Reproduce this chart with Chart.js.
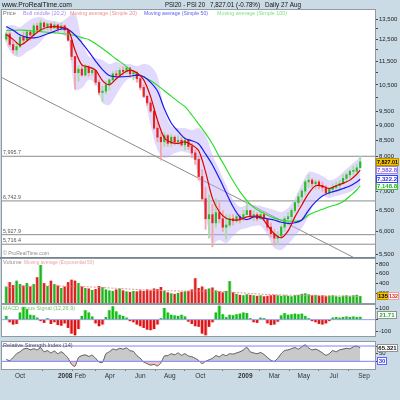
<!DOCTYPE html>
<html><head><meta charset="utf-8">
<script src="https://cdn.jsdelivr.net/npm/chart.js@4/dist/chart.umd.min.js"></script>
<style>
html,body{margin:0;padding:0;background:#cbdbe5;width:400px;height:400px;overflow:hidden;}
canvas{position:absolute;left:0;top:0;}
</style></head>
<body>
<canvas id="cMain" width="400" height="400"></canvas>
<canvas id="cVol" width="400" height="400"></canvas>
<canvas id="cMacd" width="400" height="400"></canvas>
<canvas id="cRsi" width="400" height="400"></canvas>
<script>
// ---------- DATA (weekly, week 0 = first week of Sep 2007, week 103 = week of 27 Aug 2009) ----------
const candleOpen = [12500,12750,12250,12000,12150,12600,12450,12850,12700,13150,12950,13300,13100,13250,13050,13200,13000,13150,12950,12450,
 11700,11000,11150,10900,11250,11000,11100,10600,10200,10250,10500,10700,10950,10900,11100,11050,11200,10950,11000,10750,
 10400,10050,9800,9500,8900,8600,8450,8650,8400,8600,8450,8500,8350,8500,8300,8100,7900,7400,6800,6300,
 6400,6200,6450,6300,6100,6150,6300,6250,6350,6300,6400,6500,6350,6400,6300,6400,6300,6100,5950,5850,
 5900,6100,6300,6350,6500,6700,6850,7000,7250,7300,7200,7250,7150,7100,6950,7050,7100,7150,7200,7350,
 7450,7550,7550,7650];
const candleHigh = [12850,12850,12450,12300,12700,12850,12950,12950,13250,13300,13450,13350,13300,13300,13350,13250,13300,13200,12950,12450,
 11700,11300,11350,11350,11300,11250,11100,10700,10450,10650,10750,11050,11100,11200,11250,11250,11200,11100,11050,10800,
 10500,10100,9900,9550,9100,8750,8750,8700,8700,8650,8650,8600,8600,8500,8400,8200,7950,7600,7100,6900,
 6650,6800,6700,6500,6400,6400,6400,6400,6400,6500,6700,6500,6500,6450,6500,6450,6300,6200,6050,6000,
 6150,6350,6450,6550,6750,6950,7050,7300,7440,7350,7300,7300,7250,7150,7100,7200,7250,7300,7450,7500,
 7600,7700,7750,8000];
const candleLow = [12400,12150,11850,11770,12100,12250,12400,12450,12650,12800,12900,12950,12950,12900,13000,12850,12950,12800,12400,11550,
 10330,10650,10850,10850,10850,10900,10500,10100,9860,10150,10300,10600,10700,10850,10900,10950,10800,10700,10600,10300,
 10000,9700,9450,8850,8450,7880,8300,8300,8300,8350,8350,8300,8200,8200,7950,7750,7300,6750,6050,5850,
 5660,6100,6200,6000,5830,6100,6150,6200,6200,6250,6400,6280,6250,6250,6280,6250,6020,5870,5700,5700,
 5850,6000,6150,6250,6450,6600,6750,6900,7100,7100,7050,7050,7000,6900,6900,6950,7000,7050,7200,7250,
 7350,7450,7450,7650];
const candleClose = [12750,12250,12000,12150,12600,12450,12850,12700,13150,12950,13300,13100,13250,13050,13200,13000,13150,12950,12450,11700,
 11000,11150,10900,11250,11000,11100,10600,10200,10250,10500,10700,10950,10900,11100,11050,11200,10950,11000,10750,10400,
 10050,9800,9500,8900,8600,8450,8650,8400,8600,8450,8500,8350,8500,8300,8100,7900,7400,6800,6300,6400,
 6200,6450,6300,6100,6150,6300,6250,6350,6300,6400,6500,6350,6400,6300,6400,6300,6100,5950,5850,5900,
 6100,6300,6350,6500,6700,6850,7000,7250,7300,7200,7250,7150,7100,6950,7050,7100,7150,7200,7350,7450,
 7550,7550,7650,7827.01];

const maWeeks = [0,2,4,6,8,10,12,14,16,18,20,22,24,26,28,30,32,34,36,38,40,42,44,46,48,50,52,54,56,58,60,62,64,66,68,70,72,74,76,78,80,82,84,86,88,90,92,94,96,98,100,102,103];
const ma20 = [12720,12490,12220,12410,12700,12945,13080,13110,13080,12980,11990,11330,11240,11110,10670,10505,10750,10975,11110,11000,
 10700,10040,9180,8580,8430,8400,8450,8350,8165,7535,6810,6470,6310,6270,6280,6345,6360,6345,6150,5945,
 5860,6015,6345,6640,6940,7145,7135,7070,7145,7210,7300,7470,7582.8];
const ma50 = [13115,12930,12700,12590,12565,12630,12760,12880,12995,12970,12700,12330,11925,11500,11130,10880,10830,10830,10850,10900,
 10830,10600,10255,9585,9080,8795,8560,8485,8380,8065,7735,7350,6955,6595,6345,6280,6345,6330,6300,6270,
 6215,6190,6205,6270,6513,6720,6870,6955,7005,7070,7140,7250,7322.2];
const ma100 = [12920,12930,12945,12920,12895,12865,12835,12805,12775,12735,12675,12575,12490,12280,12060,11825,11590,11375,11145,10980,
 10830,10675,10480,10265,10060,9850,9660,9360,9040,8725,8380,7985,7625,7280,6985,6750,6580,6470,6385,6315,
 6270,6245,6240,6270,6390,6470,6530,6595,6645,6720,6870,7030,7148.8];
const bollUpper = [13145,13195,13090,13345,13550,13600,13450,13400,13345,13600,13810,12460,11720,11630,11545,11370,11455,11370,11370,11285,
 11370,11285,10860,9540,8975,8905,8905,8835,8905,8670,8035,7590,7165,6765,6590,6640,6640,6615,6565,6515,
 6465,6565,6815,7190,7530,7500,7415,7300,7360,7530,7705,7880,8000];
const bollLower = [12220,11770,11680,11900,12085,12365,12750,12800,12750,12460,10300,10375,10700,10535,9795,9725,10100,10535,10780,10700,
 10100,9010,8190,7940,8035,8130,8130,8035,7360,6390,5740,5810,5740,5895,6035,6080,6125,6125,5920,5635,
 5590,5720,5895,6080,6365,6765,6870,6815,6870,6920,6975,7085,7190];

const supportLevels = [7995.7, 6742.9, 5927.9, 5716.4];
const trendWeeks = [-1.24, 101.0];
const trendValues = [10791, 5437];

const volume = [330,420,360,450,380,350,400,330,380,520, 770,400,340,450,380,350,300,330,420,470,
 450,400,330,300,290,260,280,340,320,270, 250,240,270,290,250,230,220,240,230,250,
 240,270,250,290,280,320,240,210,190,180, 200,220,230,240,270,500,300,330,270,290,
 310,250,230,210,240,440,210,180,160,150, 170,160,150,140,150,130,140,150,160,150,
 140,150,140,130,150,160,180,190,170,150, 160,140,150,130,140,150,130,120,140,150,
 130,150,160,135];
const emaWeeks = [0,4,8,12,16,20,24,28,32,36,40,44,48,52,56,60,64,68,72,76,80,84,88,92,96,100,103];
const volumeEma = [320,330,345,350,345,340,330,315,300,285,270,260,250,245,245,240,230,210,190,175,165,158,152,148,145,142,132];

const macdHist = [30,-20,-40,-35,60,110,90,40,35,15, -10,-25,10,-35,-20,-45,-50,-30,-70,-120,
 -135,-80,30,80,60,25,-30,-55,-40,20, 80,115,70,40,30,15,-10,-20,-40,-55,
 -70,-85,-90,-80,-40,10,100,60,40,35, 30,40,25,-15,-35,-55,-60,-120,-135,-60,
 -20,60,120,45,20,40,35,45,50,60, 55,10,-20,-25,15,10,-30,-45,-40,-15,
 35,55,40,45,50,45,50,30,10,-10, -20,-35,-40,-30,-10,15,20,15,20,25,
 20,25,20,21.71];

const rsi14 = [35,32,40,50,55,62,64,60,63,60, 66,55,58,52,57,50,55,48,38,22,
 17,40,45,47,43,46,38,28,27,50, 55,62,60,64,62,65,58,56,45,38,
 28,24,20,22,18,26,44,45,50,47, 52,46,50,44,42,38,32,24,30,34,
 38,45,42,48,45,50,49,52,55,60, 67,55,52,50,53,48,40,33,30,38,
 50,58,60,63,66,62,68,73,65,60, 62,58,52,46,50,58,55,60,62,64,
 63,68,70,65.321];

const priceTicks = [5500,6000,6500,7000,7500,8000,8500,9000,9500,10000,10500,11000,11500,12000,12500,13000,13500];
const priceTickLabels = [13500,12500,11500,10500,9500,9000,8500,8000,7000,6500,6000,5500];
const volumeTicks = [200,400,600,800];
const macdTicks = [-100,0,100];
const macdTickLabels = [-100,100];
const rsiTicks = [30,50,70];
const rsiTickLabels = [50];
const monthTickWeeks = [4,17.14,21.57,30.14,39,47.57,56.43,69.57,78,86.57,95.28,104.1];
const monthTickLabels = ['Oct','2008','Feb','Apr','Jun','Aug','Oct','2009','Mar','May','Jul','Sep'];

const lastPrice = 7827.01, lastBoll = 7582.8, lastMa50 = 7322.2, lastMa100 = 7148.8;
const lastVolume = 135, lastVolumeEma = 132, lastMacd = 21.71, lastRsi = 65.321;

// ---------- STYLE / HELPERS ----------
const FONT = '"Liberation Sans", Arial, sans-serif';
Chart.defaults.font.family = FONT;
const X_MIN = -1.24, X_MAX = 107.3;
const weekIdx = candleClose.map((_, i) => i);
const isUp = i => candleClose[i] >= candleOpen[i];
const pts = (xs, ys) => xs.map((x, j) => ({x, y: ys[j]}));
const hline = v => [{x: X_MIN, y: v}, {x: X_MAX, y: v}];

function txt(ctx, s, x, y, color, size, maxW, weight, align) {
  ctx.save();
  ctx.font = (weight || 'normal') + ' ' + size + 'px ' + FONT;
  ctx.fillStyle = color; ctx.textBaseline = 'middle'; ctx.textAlign = align || 'left';
  if (maxW) ctx.fillText(s, x, y, maxW); else ctx.fillText(s, x, y);
  ctx.restore();
}
function box(ctx, s, x, yc, w, bg, border, color) {
  const h = 8, top = Math.round(yc - h / 2);
  ctx.save();
  ctx.fillStyle = bg; ctx.fillRect(x, top, w, h);
  ctx.strokeStyle = border; ctx.lineWidth = 1; ctx.strokeRect(x + 0.5, top + 0.5, w - 1, h - 1);
  ctx.restore();
  txt(ctx, s, x + w / 2, top + h / 2 + 0.5, color, 6, w - 2, 'bold', 'center');
}
function panel(id, after, bottomThick) {
  return {
    id,
    beforeDraw(chart) {
      const {ctx, chartArea: a} = chart;
      ctx.save(); ctx.fillStyle = '#ffffff';
      ctx.fillRect(a.left, a.top, a.right - a.left, a.bottom - a.top); ctx.restore();
    },
    afterDraw(chart) {
      const {ctx, chartArea: a} = chart;
      ctx.save(); ctx.strokeStyle = '#8f9aa2'; ctx.lineWidth = 1;
      ctx.strokeRect(a.left - 0.5, a.top - 0.5, a.right - a.left + 1, a.bottom - a.top + 1);
      if (bottomThick) { ctx.fillStyle = '#75858f'; ctx.fillRect(0, a.bottom, 376, 2); }
      ctx.restore();
      after(chart);
    }
  };
}
function rightAxis(extra) {
  return Object.assign({
    position: 'right', bounds: 'data',
    grid: {drawOnChartArea: false, drawTicks: true, tickLength: 3, color: '#444'},
    border: {display: true, color: '#8f9aa2'},
    ticks: {font: {family: FONT, size: 6}, color: '#222', padding: 1, autoSkip: false, maxRotation: 0},
    afterFit: s => { s.width = 25; }
  }, extra);
}
const xHidden = {type: 'linear', min: X_MIN, max: X_MAX, offset: false, bounds: 'data', display: false};
const baseOpts = (pad) => ({
  responsive: false, animation: false, devicePixelRatio: 1, events: [],
  layout: {padding: pad},
  plugins: {legend: {display: false}, tooltip: {enabled: false}}
});

// ---------- MAIN PRICE PANEL ----------
const mainDatasets = [
  {type: 'line', data: pts(maWeeks, bollUpper), borderWidth: 0, pointRadius: 0, tension: 0.3,
   backgroundColor: 'rgba(190,172,248,0.45)', fill: '+1', order: 20},
  {type: 'line', data: pts(maWeeks, bollLower), borderWidth: 0, pointRadius: 0, tension: 0.3, fill: false, order: 21},
  ...supportLevels.map(v => ({type: 'line', data: hline(v), borderColor: '#8c8c8c', borderWidth: 1, pointRadius: 0, order: 25})),
  {type: 'line', data: pts(trendWeeks, trendValues), borderColor: '#8c8c8c', borderWidth: 1, pointRadius: 0, order: 24},
  {type: 'bar', data: weekIdx.map(i => ({x: i, y: [candleLow[i], candleHigh[i]]})),
   backgroundColor: weekIdx.map(i => isUp(i) ? '#a6dea6' : '#f2a8a8'), barThickness: 1.2, grouped: false, order: 6},
  {type: 'bar', data: weekIdx.map(i => ({x: i, y: [candleOpen[i], candleClose[i]]})),
   backgroundColor: weekIdx.map(i => isUp(i) ? '#2cb82c' : '#e42222'), barThickness: 1.5, grouped: false, minBarLength: 1, order: 5},
  {type: 'line', data: pts(maWeeks, ma100), borderColor: '#22dd22', borderWidth: 1.1, pointRadius: 0, tension: 0.3, order: 3},
  {type: 'line', data: pts(maWeeks, ma50), borderColor: '#1a1aee', borderWidth: 1.2, pointRadius: 0, tension: 0.3, order: 2},
  {type: 'line', data: pts(maWeeks, ma20), borderColor: '#e00000', borderWidth: 1.2, pointRadius: 0, tension: 0.3, order: 1}
];
new Chart(document.getElementById('cMain'), {
  type: 'bar',
  data: {datasets: mainDatasets},
  options: Object.assign(baseOpts({left: 2, right: 0, top: 10, bottom: 143}), {
    scales: {
      x: xHidden,
      y: rightAxis({
        type: 'logarithmic', min: 5444, max: 13972,
        afterBuildTicks: s => { s.ticks = priceTicks.map(v => ({value: v})); },
        ticks: {font: {family: FONT, size: 6}, color: '#222', padding: 1, autoSkip: false, maxRotation: 0,
          callback: v => priceTickLabels.includes(v) ? v.toLocaleString('en-US') : ''}
      })
    }
  }),
  plugins: [panel('mainPanel', chart => {
    const {ctx, scales: {y}} = chart;
    // title bar
    txt(ctx, 'www.ProRealTime.com', 2, 5, '#111', 7, 70);
    txt(ctx, 'PSI20 - PSI 20', 165, 5, '#111', 7, 40);
    txt(ctx, '7,827.01 (-0.78%)', 210, 5, '#111', 7, 50);
    txt(ctx, 'Daily 27 Aug', 265, 5, '#111', 7, 36);
    // legend row
    txt(ctx, 'Price', 3, 13.5, '#707070', 5.6, 14);
    txt(ctx, 'Boll middle (20,2)', 23, 13.5, '#a68af0', 5.6, 43);
    txt(ctx, 'Moving average (Simple 20)', 70, 13.5, '#f08c8c', 5.6, 67);
    txt(ctx, 'Moving average (Simple 50)', 144, 13.5, '#5a5af0', 5.6, 64);
    txt(ctx, 'Moving average (Simple 100)', 217, 13.5, '#80e080', 5.6, 70);
    // support labels
    supportLevels.forEach(v => {
      txt(ctx, v.toLocaleString('en-US', {minimumFractionDigits: 1, maximumFractionDigits: 1}), 3, y.getPixelForValue(v) - 3.5, '#555', 5.6, 18);
    });
    txt(ctx, '\u00A9 ProRealTime.com', 3, 253.5, '#8a8a8a', 5.6, 46);
    // value boxes
    box(ctx, lastMa100.toLocaleString('en-US', {minimumFractionDigits: 1}), 376, y.getPixelForValue(lastMa100), 22, '#ffffff', '#40c040', '#20b020');
    box(ctx, lastMa50.toLocaleString('en-US', {minimumFractionDigits: 1}), 376, y.getPixelForValue(lastMa50), 22, '#ffffff', '#3a3aff', '#3030ff');
    box(ctx, lastBoll.toLocaleString('en-US', {minimumFractionDigits: 1}), 376, y.getPixelForValue(lastBoll), 22, '#ffffff', '#9f7fef', '#7a5ae0');
    box(ctx, lastPrice.toLocaleString('en-US', {minimumFractionDigits: 2}), 376, y.getPixelForValue(lastPrice), 23, '#f5c400', '#b89000', '#000000');
  }, true)]
});

// ---------- VOLUME PANEL ----------
new Chart(document.getElementById('cVol'), {
  type: 'bar',
  data: {datasets: [
    {type: 'bar', data: weekIdx.map(i => ({x: i, y: volume[i]})),
     backgroundColor: weekIdx.map(i => isUp(i) ? '#c4eac4' : '#f5c6c6'), barThickness: 3.4, grouped: false, order: 3},
    {type: 'bar', data: weekIdx.map(i => ({x: i, y: volume[i]})),
     backgroundColor: weekIdx.map(i => isUp(i) ? '#1eb41e' : '#dd2222'), barThickness: 1.5, grouped: false, order: 2},
    {type: 'line', data: pts(emaWeeks, volumeEma), borderColor: '#f08c8c', borderWidth: 1, borderDash: [2, 1.5], pointRadius: 0, tension: 0.3, order: 1}
  ]},
  options: Object.assign(baseOpts({left: 2, right: 0, top: 259, bottom: 97}), {
    scales: {
      x: xHidden,
      y: rightAxis({type: 'linear', min: 0, max: 900,
        afterBuildTicks: s => { s.ticks = volumeTicks.map(v => ({value: v})); },
        ticks: {font: {family: FONT, size: 6}, color: '#222', padding: 1, autoSkip: false, callback: v => String(v)}})
    }
  }),
  plugins: [panel('volPanel', chart => {
    const {ctx, scales: {y}} = chart;
    txt(ctx, 'Volume', 3, 262, '#a08c8c', 5.6, 19);
    txt(ctx, 'Moving average (Exponential 50)', 24, 262, '#f0a0a0', 5.6, 70);
    const yc = y.getPixelForValue(lastVolume);
    box(ctx, String(lastVolume), 377, yc, 12, '#f5c400', '#b89000', '#000');
    box(ctx, String(lastVolumeEma), 388, yc, 11, '#ffffff', '#f0a0a0', '#e02020');
  })]
});

// ---------- MACD PANEL ----------
new Chart(document.getElementById('cMacd'), {
  type: 'bar',
  data: {datasets: [
    {type: 'line', data: hline(0), borderColor: '#9a9aff', borderWidth: 1, pointRadius: 0, order: 0},
    {type: 'bar', data: weekIdx.map(i => ({x: i, y: macdHist[i]})),
     backgroundColor: weekIdx.map(i => macdHist[i] >= 0 ? '#b6e8b6' : '#f4b4b4'), barThickness: 3.4, grouped: false, order: 3},
    {type: 'bar', data: weekIdx.map(i => ({x: i, y: macdHist[i]})),
     backgroundColor: weekIdx.map(i => macdHist[i] >= 0 ? '#10c010' : '#e01010'), barThickness: 1.5, grouped: false, order: 2}
  ]},
  options: Object.assign(baseOpts({left: 2, right: 0, top: 305, bottom: 64}), {
    scales: {
      x: xHidden,
      y: rightAxis({type: 'linear', min: -144, max: 129,
        afterBuildTicks: s => { s.ticks = macdTicks.map(v => ({value: v})); },
        ticks: {font: {family: FONT, size: 6}, color: '#222', padding: 1, autoSkip: false,
          callback: v => macdTickLabels.includes(v) ? String(v) : ''}})
    }
  }),
  plugins: [panel('macdPanel', chart => {
    const {ctx, scales: {y}} = chart;
    txt(ctx, 'MACD minus Signal (12,26,9)', 3, 308, '#6cc46c', 5.6, 72);
    box(ctx, lastMacd.toFixed(2), 377, y.getPixelForValue(lastMacd) - 2, 20, '#ffffff', '#909090', '#20b020');
  })]
});

// ---------- RSI PANEL ----------
new Chart(document.getElementById('cRsi'), {
  type: 'bar',
  data: {datasets: [
    {type: 'line', data: hline(70), borderColor: '#8080ff', borderWidth: 1, pointRadius: 0, order: 0},
    {type: 'line', data: hline(30), borderColor: '#8080ff', borderWidth: 1, pointRadius: 0, order: 0},
    {type: 'line', data: pts(weekIdx, rsi14), borderColor: '#3a3a3a', borderWidth: 0.8, pointRadius: 0, tension: 0.2,
     fill: {target: {value: 30}, above: '#c9c9c9', below: '#f2c4c8'}, order: 1}
  ]},
  options: Object.assign(baseOpts({left: 2, right: 0, top: 342, bottom: 19}), {
    scales: {
      x: {type: 'linear', min: X_MIN, max: X_MAX, offset: false, bounds: 'data', position: 'bottom',
        grid: {display: true, drawOnChartArea: false, drawTicks: true, tickLength: 2, color: '#777'},
        border: {display: false},
        afterBuildTicks: s => { s.ticks = monthTickWeeks.map(w => ({value: w})); },
        afterFit: s => { s.height = 12; },
        ticks: {autoSkip: false, maxRotation: 0, minRotation: 0, padding: 1, color: '#333',
          font: c => ({family: FONT, size: 6.5, weight: /^20/.test(monthTickLabels[c.index] || '') ? 'bold' : 'normal'}),
          callback: (v, i) => monthTickLabels[i]}
      },
      y: rightAxis({type: 'linear', min: 10, max: 80.5,
        afterBuildTicks: s => { s.ticks = rsiTicks.map(v => ({value: v})); },
        ticks: {font: {family: FONT, size: 6}, color: '#222', padding: 1, autoSkip: false,
          callback: v => rsiTickLabels.includes(v) ? String(v) : ''}})
    }
  }),
  plugins: [panel('rsiPanel', chart => {
    const {ctx, scales: {y}} = chart;
    txt(ctx, 'Relative Strength Index (14)', 3, 345.5, '#555', 5.6, 77);
    box(ctx, lastRsi.toFixed(3), 377, y.getPixelForValue(lastRsi), 21, '#ffffff', '#909090', '#111');
    box(ctx, '30', 377, y.getPixelForValue(30), 10, '#ffffff', '#6060ff', '#3030ff');
  })]
});
</script>
</body></html>
